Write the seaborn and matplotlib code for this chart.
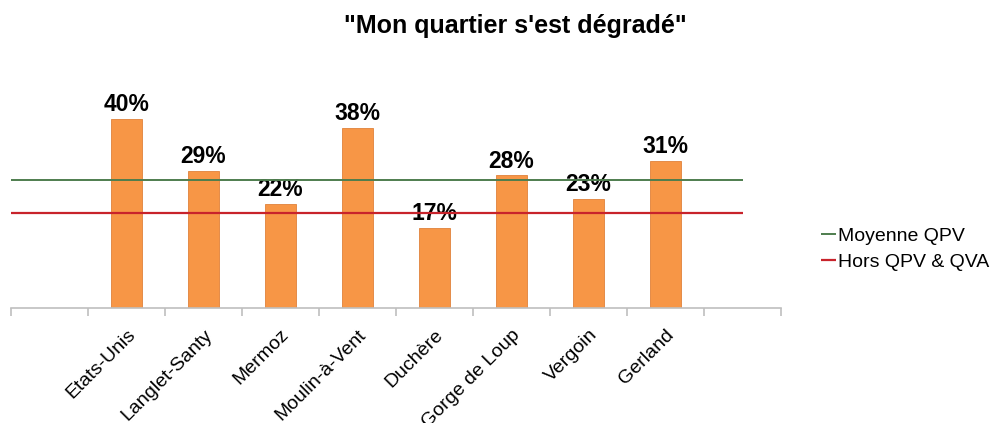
import matplotlib
matplotlib.use("Agg")
import matplotlib.pyplot as plt
import seaborn as sns
import pandas as pd

# ── Data ────────────────────────────────────────────────────
quartiers = ['Etats-Unis', 'Langlet-Santy', 'Mermoz', 'Moulin-à-Vent',
             'Duchère', 'Gorge de Loup', 'Vergoin', 'Gerland']
pourcentages = [40, 29, 22, 38, 17, 28, 23, 31]
moyenne_qpv = 27
hors_qpv_qva = 20

df = pd.DataFrame({'quartier': quartiers, 'pct': pourcentages})

# ── Style ───────────────────────────────────────────────────
sns.set_style("white")
plt.rcParams['font.family'] = ['Liberation Sans', 'DejaVu Sans']
plt.rcParams['text.color'] = 'black'
plt.rcParams['xtick.color'] = 'black'

fig = plt.figure(figsize=(9.96, 4.23), dpi=100)
ax = fig.add_axes([11/996, 1 - 308/423, 770/996, 213/423])

sns.barplot(data=df, x='quartier', y='pct', order=quartiers,
            color='#F79646', saturation=1, width=0.39,
            edgecolor='#E0823A', linewidth=0.6, ax=ax)

ax.set_xlim(-1.5, len(quartiers) + 0.5)
ax.set_ylim(0, 45)

# Reference lines (drawn in front of bars)
ax.hlines(moyenne_qpv, -1.5, len(quartiers), color='#4E7D4E', lw=1.4,
          zorder=5, label='Moyenne QPV')
ax.hlines(hors_qpv_qva, -1.5, len(quartiers), color='#C8232B', lw=1.6,
          zorder=5, label='Hors QPV & QVA')

# Bar labels
for cont in ax.containers:
    ax.bar_label(cont, fmt='{:.0f}%', padding=2, fontsize=16.5,
                 fontweight='bold', color='black')

# Axis styling
for s in ['top', 'right', 'left']:
    ax.spines[s].set_visible(False)
ax.spines['bottom'].set_color('#BFBFBF')
ax.spines['bottom'].set_linewidth(1.2)
ax.set_yticks([])
ax.set_xlabel('')
ax.set_ylabel('')

ax.set_xticks(range(len(quartiers)))
ax.set_xticklabels(quartiers, rotation=45, ha='right',
                   rotation_mode='anchor', fontsize=14, color='black')
ax.tick_params(axis='x', which='major', length=0, pad=13)
ax.set_xticks([i - 0.5 for i in range(-1, len(quartiers) + 2)], minor=True)
ax.tick_params(axis='x', which='minor', bottom=True, length=6,
               color='#BFBFBF', width=1.2, direction='out')

fig.text(515/996, 1 - 26/423, '"Mon quartier s\'est dégradé"',
         ha='center', va='center', fontsize=18, fontweight='bold',
         color='black')

fig.legend(loc='center left', bbox_to_anchor=(803/996, 1 - 249/423),
           frameon=False, fontsize=14, handlelength=0.8,
           handletextpad=0.1, labelspacing=0.45)

plt.savefig('out.png', dpi=100)
